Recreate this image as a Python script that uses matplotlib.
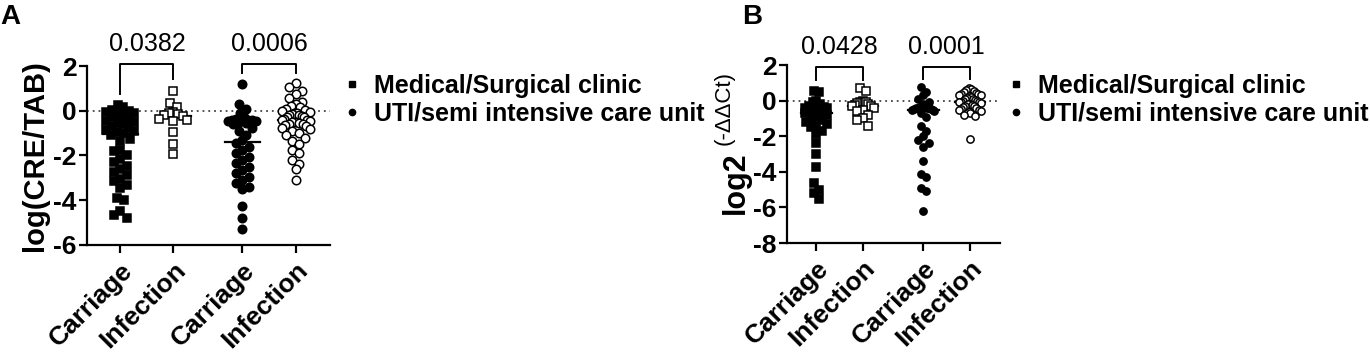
import matplotlib
matplotlib.use('Agg')
import matplotlib.pyplot as plt
from matplotlib.lines import Line2D
import numpy as np

plt.rcParams['font.family'] = ['Liberation Sans', 'DejaVu Sans']

# ---- data ----
categories = ['Carriage', 'Infection', 'Carriage', 'Infection']
legend_labels = ['Medical/Surgical clinic', 'UTI/semi intensive care unit']

# panel A: log(CRE/TAB)
a_clinic_carriage = [0.25, 0.15, 0.05, 0.0, -0.05, -0.1, -0.15, -0.2, -0.25, -0.3, -0.4, -0.45,
                     -0.5, -0.55, -0.6, -0.7, -0.75, -0.85, -0.9, -0.95, -1.0, -1.1, -1.25, -1.35,
                     -1.75, -1.8, -2.0, -2.15, -2.3, -2.45, -2.6, -2.75, -2.85, -3.05, -3.15, -3.3,
                     -3.45, -3.9, -4.0, -4.5, -4.65, -4.8]
a_clinic_infection = [0.88, 0.35, 0.17, -0.05, -0.1, -0.15, -0.2, -0.25, -0.35, -0.4, -0.45,
                      -0.95, -1.5, -1.95]
a_uti_carriage = [1.2, 0.3, 0.1, -0.1, -0.3, -0.35, -0.4, -0.4, -0.4, -0.45, -0.45, -0.5, -0.55,
                  -0.6, -0.75, -0.9, -1.1, -1.3, -1.45, -1.6, -1.75, -1.9, -2.05, -2.2, -2.35,
                  -2.5, -2.65, -2.8, -2.95, -3.1, -3.25, -3.4, -3.5, -4.25, -4.8, -5.3]
a_uti_infection = [1.25, 1.05, 0.9, 0.75, 0.55, 0.4, 0.3, 0.2, 0.15, 0.1, 0.05, 0.0, -0.05, -0.1,
                   -0.1, -0.15, -0.2, -0.2, -0.25, -0.3, -0.3, -0.35, -0.4, -0.4, -0.45, -0.5,
                   -0.5, -0.55, -0.6, -0.6, -0.65, -0.7, -0.75, -0.8, -0.9, -1.0, -1.1, -1.2,
                   -1.35, -1.5, -1.75, -1.9, -2.2, -2.4, -2.6, -3.1]
a_pvalues = ['0.0382', '0.0006']

# panel B: log2(-ddCt)
b_clinic_carriage = [0.55, 0.5, 0.0, -0.1, -0.2, -0.3, -0.35, -0.4, -0.4, -0.45, -0.5, -0.5,
                     -0.5, -0.55, -0.55, -0.6, -0.6, -0.65, -0.7, -0.7, -0.8, -0.9, -1.0, -1.1,
                     -1.2, -1.3, -1.4, -1.5, -1.7, -1.85, -2.4, -3.0, -3.7, -4.6, -5.0, -5.2, -5.5]
b_clinic_infection = [0.7, 0.55, 0.0, -0.05, -0.1, -0.15, -0.2, -0.25, -0.3, -0.3, -0.4, -0.5,
                      -0.6, -0.8, -1.0, -1.1, -1.4]
b_uti_carriage = [0.75, 0.5, 0.3, 0.1, -0.1, -0.2, -0.3, -0.35, -0.35, -0.4, -0.4, -0.4, -0.4,
                  -0.45, -0.45, -0.5, -0.5, -0.6, -0.7, -0.9, -1.4, -1.7, -2.0, -2.2, -2.4, -2.6,
                  -3.4, -4.1, -4.3, -4.9, -5.1, -6.2]
b_uti_infection = [0.7, 0.65, 0.6, 0.55, 0.5, 0.45, 0.4, 0.35, 0.3, 0.3, 0.25, 0.2, 0.15, 0.1,
                   0.1, 0.05, 0.0, 0.0, -0.05, -0.1, -0.1, -0.15, -0.2, -0.2, -0.25, -0.3, -0.3,
                   -0.35, -0.4, -0.45, -0.5, -0.55, -0.6, -0.7, -0.8, -0.85, -2.15]
b_pvalues = ['0.0428', '0.0001']

xpos = [0, 1, 2.3, 3.3]
styles = [('s', 'black'), ('s', 'white'), ('o', 'black'), ('o', 'white')]


def swarm(ax, x0, vals, d_px, max_px):
    # rows of points (GraphPad-like scatter), rows squeezed to max_px width
    vals = np.asarray(vals, float)
    ys = ax.transData.transform(np.column_stack([np.full(len(vals), x0), vals]))[:, 1]
    order = np.argsort(-ys)
    dx = np.zeros(len(vals))
    i = 0
    while i < len(order):
        j = i
        while j < len(order) and ys[order[i]] - ys[order[j]] < d_px:
            j += 1
        row = order[i:j]
        n = len(row)
        step = d_px if n < 2 else min(0.75 * d_px, max_px / (n - 1))
        offs = (np.arange(n) - (n - 1) / 2) * step
        offs = offs[np.argsort(np.abs(offs), kind='stable')]
        dx[row] = offs
        i = j
    ppu = ax.transData.transform((1, 0))[0] - ax.transData.transform((0, 0))[0]
    return x0 + dx / ppu


def panel(ax, groups, ylim, yticks, ms, max_px, pvals, top, legs, letter, letter_xy):
    ax.set_xlim(-0.63, 3.95)
    ax.set_ylim(*ylim)
    for sp in ['top', 'right']:
        ax.spines[sp].set_visible(False)
    for sp in ['left', 'bottom']:
        ax.spines[sp].set_linewidth(1.6)
    ax.set_yticks(yticks)
    ax.set_yticklabels([str(t) for t in yticks], fontsize=19, fontweight='bold')
    ax.set_xticks(xpos)
    ax.set_xticklabels(categories, fontsize=19, fontweight='bold', rotation=45,
                       ha='right', rotation_mode='anchor')
    ax.tick_params(axis='both', width=1.6, length=5.5)
    ax.tick_params(axis='x', pad=4)
    ax.tick_params(axis='y', pad=2)
    ax.axhline(0, color='#444444', lw=1.3, ls=(0, (1, 2.2)), zorder=0)
    ms_px = ms * 100 / 72.0
    for x0, vals, (mk, fc) in zip(xpos, groups, styles):
        xs = swarm(ax, x0, vals, ms_px, max_px)
        med = np.median(vals)
        ax.plot([x0 - 0.33, x0 + 0.33], [med, med], color='black', lw=1.6, zorder=1)
        ax.plot(xs, vals, ls='', marker=mk, ms=ms, mfc=fc, mec='black', mew=1.1, zorder=2)
    # significance brackets
    for k, p in enumerate(pvals):
        x1, x2 = xpos[2 * k], xpos[2 * k + 1]
        l1, l2 = legs[2 * k], legs[2 * k + 1]
        ax.plot([x1, x1, x2, x2], [l1, top, top, l2], color='black', lw=1.4, clip_on=False)
        ax.text((x1 + x2) / 2, top + 0.9 * (ylim[1] - ylim[0]) / 8, p, ha='center', va='center',
                fontsize=18)
    ax.figure.text(letter_xy[0], letter_xy[1], letter, fontsize=20, fontweight='bold',
                   ha='left', va='top')


fig = plt.figure(figsize=(13.7, 3.53), dpi=100)
axA = fig.add_axes([0.0635, 0.306, 0.1774, 0.507])
axB = fig.add_axes([0.5745, 0.3116, 0.1555, 0.504])

panel(axA, [a_clinic_carriage, a_clinic_infection, a_uti_carriage, a_uti_infection],
      (-6, 2), [2, 0, -2, -4, -6], 6.1, 28, a_pvalues, 2.1,
      [0.75, 1.4, 1.7, 1.7], 'A', (0.0, 0.99))
panel(axB, [b_clinic_carriage, b_clinic_infection, b_uti_carriage, b_uti_infection],
      (-8, 2), [2, 0, -2, -4, -6, -8], 5.2, 22, b_pvalues, 1.9,
      [1.15, 1.15, 1.2, 1.2], 'B', (0.542, 0.99))

axA.set_ylabel('log(CRE/TAB)', fontsize=21, fontweight='bold', labelpad=3)
# panel B label: "log2" with a raised "(-ΔΔCt)"
fig.text(736 / 1370, 1 - 214 / 353, 'log2', rotation=90, fontsize=22, fontweight='bold',
         ha='center', va='bottom')
fig.text(724 / 1370, 1 - 145 / 353, '(-ΔΔCt)', rotation=90, fontsize=16,
         ha='center', va='bottom')

handles = [Line2D([], [], marker='s', color='black', ls='', ms=5),
           Line2D([], [], marker='o', color='black', ls='', ms=4.5)]
for x_leg in [342 / 1370, 1006 / 1370]:
    fig.legend(handles, legend_labels, loc='upper left', bbox_to_anchor=(x_leg, 1 - 74 / 353),
               frameon=False, prop={'weight': 'bold', 'size': 18}, handlelength=0.8,
               handletextpad=0.5, labelspacing=0.15, borderaxespad=0, borderpad=0)

fig.savefig('out.png', dpi=100)
